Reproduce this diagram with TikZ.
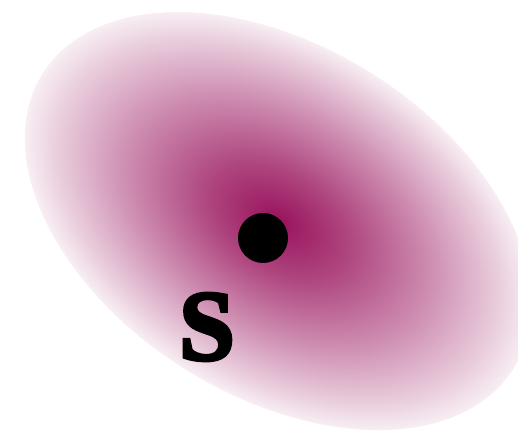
\documentclass[tikz,border=0pt]{standalone}
\usepackage{fontspec}
\newfontfamily\labelfont{Liberation Serif}[FakeBold=3.5]
\usepackage{tikz}
\usetikzlibrary{positioning}
\definecolor{plum}{RGB}{152,18,92}
\pgfdeclareradialshading{plumcloud}{\pgfpoint{0bp}{0bp}}{%
  color(0bp)=(plum); color(7bp)=(plum!78!white); color(15bp)=(plum!48!white);
  color(22bp)=(plum!20!white); color(25bp)=(plum!7!white); color(25.1bp)=(white); color(50bp)=(white)}

\begin{document}
\begin{tikzpicture}[
  cloud/.style={shading=plumcloud},
  dot/.style={circle, fill=black, inner sep=0pt, minimum size=1.0cm},
  lbl/.style={font=\labelfont\bfseries\fontsize{57}{60}\selectfont, inner sep=0pt}
]
\useasboundingbox (0,0) rectangle (10.36,8.72);
\clip (0,0) rectangle (10.36,8.72);
\begin{scope}[transform canvas={shift={(5.56,4.30)}, rotate=-32}]
  \shade[cloud] (0,0) ellipse (5.56 and 3.5);
\end{scope}
\node[dot] (src) at (5.26,3.96) {};
\node[lbl] (s) at (4.14,2.18) {S};
\end{tikzpicture}
\end{document}
